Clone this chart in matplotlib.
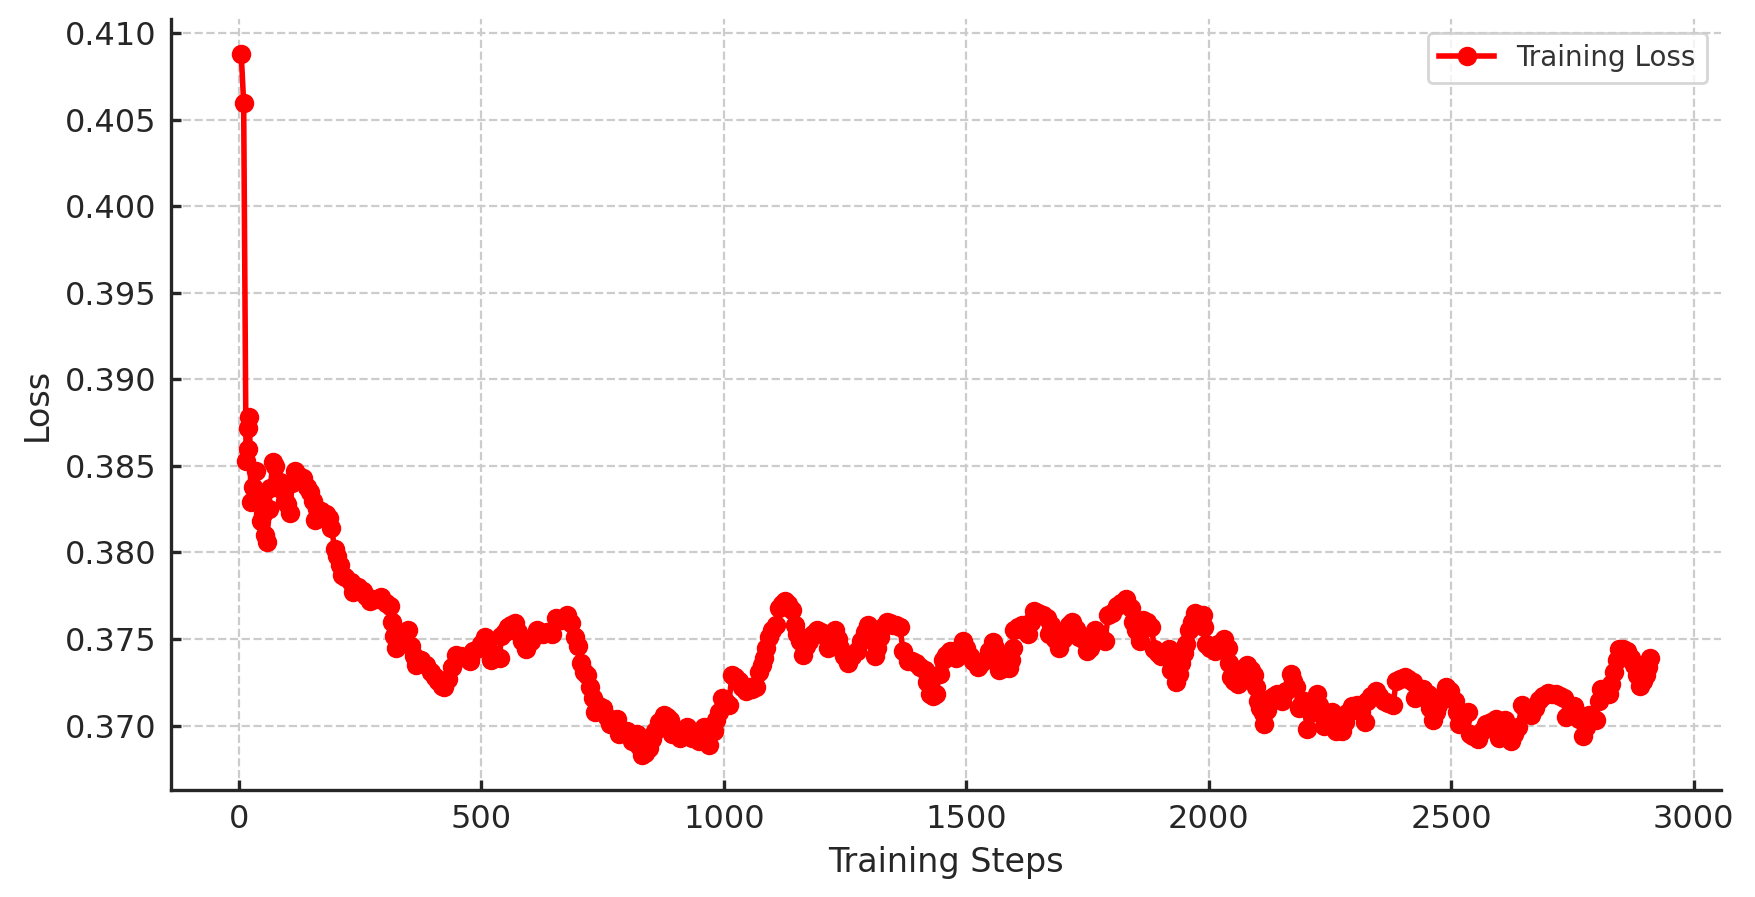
import numpy as np
import matplotlib
matplotlib.use("Agg")
import matplotlib.pyplot as plt

# training loss readings (step, loss) taken off the reference chart
steps = [5, 10, 15, 18, 20, 22, 25, 30, 35, 40, 45, 50, 55, 58, 62, 65, 70, 75, 80, 85,
         90, 95, 100, 105, 110, 115, 125, 133, 140, 146, 152, 157, 162, 170, 180, 186, 191, 198, 203, 208,
         212, 220, 232, 236, 245, 256, 262, 270, 282, 294, 303, 311, 315, 320, 325, 335, 343, 349, 356, 362,
         366, 375, 387, 397, 404, 411, 418, 424, 431, 440, 448, 458, 469, 476, 483, 495,
         500, 507, 514, 521, 530, 538, 541, 548, 555, 562, 569, 576, 583, 593, 603, 614, 621, 628, 636, 645,
         655, 665, 676, 686, 693, 700, 705, 712, 717, 724, 731, 734, 743, 752, 759, 766, 779, 783, 790, 800,
         810, 821, 826, 831, 838, 845, 852, 859, 866, 876, 883, 890, 893, 900, 910, 917, 924, 930, 935, 941,
         948, 955, 959, 964, 969, 979, 985, 990, 997, 1003, 1010, 1017, 1024, 1031, 1038, 1045, 1052, 1059, 1066, 1072,
         1078, 1083, 1088, 1093, 1100, 1107, 1114, 1120, 1127, 1133, 1140, 1147, 1152, 1158, 1164, 1170, 1175, 1184, 1192, 1200,
         1209, 1216, 1222, 1229, 1235, 1240, 1248, 1257, 1265, 1274, 1284, 1291, 1298, 1305, 1312, 1317, 1322, 1329, 1336, 1343,
         1349, 1356, 1363, 1370, 1380, 1388, 1397, 1405, 1414, 1420, 1425, 1432, 1438, 1445, 1452, 1459, 1466, 1473, 1479, 1486,
         1493, 1500, 1507, 1515, 1524, 1531, 1538, 1546, 1555, 1560, 1565, 1568, 1578, 1589, 1592, 1596, 1599, 1607, 1616, 1622,
         1627, 1633, 1640, 1649, 1658, 1666, 1671, 1675, 1683, 1692, 1699, 1705, 1712, 1719, 1726, 1733, 1740, 1750, 1755, 1765,
         1775, 1786, 1793, 1800, 1810, 1820, 1830, 1840, 1844, 1850, 1858, 1864, 1872, 1882, 1888, 1895, 1902, 1910, 1919, 1923,
         1933, 1938, 1943, 1949, 1954, 1960, 1966, 1971, 1980, 1988, 1991, 1995, 2003, 2012, 2020, 2032, 2039, 2042, 2046, 2053,
         2060, 2063, 2072, 2080, 2088, 2094, 2097, 2101, 2106, 2111, 2114, 2120, 2128, 2135, 2141, 2147, 2152, 2159, 2169, 2174,
         2179, 2186, 2191, 2196, 2203, 2210, 2217, 2224, 2228, 2231, 2238, 2246, 2255, 2262, 2268, 2275, 2281, 2286, 2296, 2306,
         2314, 2323, 2327, 2335, 2344, 2352, 2361, 2370, 2380, 2387, 2395, 2404, 2412, 2421, 2425, 2433, 2442, 2452, 2457, 2462,
         2468, 2473, 2482, 2490, 2497, 2507, 2512, 2517, 2525, 2534, 2538, 2546, 2555, 2563, 2572, 2582, 2592, 2599, 2605, 2610,
         2617, 2623, 2630, 2637, 2647, 2655, 2664, 2673, 2682, 2690, 2699, 2708, 2716, 2725, 2733, 2736, 2745, 2753, 2758, 2764,
         2771, 2778, 2784, 2791, 2798, 2805, 2808, 2816, 2825, 2830, 2836, 2841, 2846, 2855, 2863, 2870, 2877, 2884, 2890, 2895,
         2901, 2906, 2911]

losses = [0.4088, 0.4060, 0.3853, 0.3860, 0.3872, 0.3878, 0.3829, 0.3838, 0.3847, 0.3830, 0.3818, 0.3822, 0.3810, 0.3806, 0.3825, 0.3837, 0.3852, 0.3850, 0.3840, 0.3841,
          0.3836, 0.3830, 0.3828, 0.3823, 0.3840, 0.3847, 0.3844, 0.3843, 0.3838, 0.3835, 0.3830, 0.3819, 0.3825, 0.3824, 0.3822, 0.3820, 0.3814, 0.3802, 0.3798, 0.3793,
          0.3787, 0.3786, 0.3783, 0.3777, 0.3780, 0.3778, 0.3775, 0.3772, 0.3773, 0.3774, 0.3771, 0.3769, 0.3760, 0.3752, 0.3745, 0.3750, 0.3753, 0.3755, 0.3746, 0.3740,
          0.3735, 0.3738, 0.3735, 0.3731, 0.3728, 0.3726, 0.3723, 0.3722, 0.3727, 0.3734, 0.3741, 0.3740, 0.3739, 0.3737, 0.3743, 0.3745,
          0.3747, 0.3751, 0.3745, 0.3738, 0.3740, 0.3739, 0.3752, 0.3754, 0.3757, 0.3758, 0.3759, 0.3754, 0.3749, 0.3744, 0.3749, 0.3755, 0.3754, 0.3753, 0.3754, 0.3753,
          0.3762, 0.3761, 0.3764, 0.3759, 0.3751, 0.3746, 0.3736, 0.3731, 0.3729, 0.3722, 0.3716, 0.3708, 0.3711, 0.3710, 0.3705, 0.3701, 0.3704, 0.3695, 0.3697, 0.3697,
          0.3691, 0.3695, 0.3688, 0.3683, 0.3684, 0.3687, 0.3692, 0.3697, 0.3702, 0.3706, 0.3705, 0.3703, 0.3695, 0.3696, 0.3693, 0.3696, 0.3699, 0.3696, 0.3693, 0.3694,
          0.3691, 0.3695, 0.3699, 0.3694, 0.3689, 0.3697, 0.3703, 0.3708, 0.3716, 0.3714, 0.3712, 0.3729, 0.3728, 0.3726, 0.3722, 0.3720, 0.3722, 0.3721, 0.3722, 0.3731,
          0.3735, 0.3739, 0.3745, 0.3751, 0.3755, 0.3758, 0.3768, 0.3770, 0.3772, 0.3770, 0.3767, 0.3758, 0.3753, 0.3749, 0.3741, 0.3746, 0.3749, 0.3753, 0.3755, 0.3754,
          0.3752, 0.3745, 0.3750, 0.3755, 0.3750, 0.3745, 0.3740, 0.3736, 0.3740, 0.3743, 0.3749, 0.3754, 0.3758, 0.3750, 0.3740, 0.3745, 0.3751, 0.3757, 0.3760, 0.3759,
          0.3758, 0.3758, 0.3757, 0.3743, 0.3737, 0.3737, 0.3736, 0.3734, 0.3732, 0.3725, 0.3718, 0.3717, 0.3718, 0.3730, 0.3738, 0.3741, 0.3743, 0.3742, 0.3739, 0.3744,
          0.3749, 0.3745, 0.3740, 0.3737, 0.3734, 0.3736, 0.3738, 0.3743, 0.3748, 0.3745, 0.3741, 0.3732, 0.3733, 0.3733, 0.3738, 0.3745, 0.3755, 0.3757, 0.3758, 0.3755,
          0.3753, 0.3760, 0.3766, 0.3765, 0.3764, 0.3762, 0.3753, 0.3758, 0.3750, 0.3745, 0.3750, 0.3755, 0.3758, 0.3760, 0.3756, 0.3751, 0.3750, 0.3743, 0.3745, 0.3755,
          0.3752, 0.3749, 0.3764, 0.3765, 0.3769, 0.3771, 0.3773, 0.3768, 0.3760, 0.3755, 0.3749, 0.3761, 0.3760, 0.3757, 0.3744, 0.3742, 0.3740, 0.3742, 0.3744, 0.3732,
          0.3725, 0.3730, 0.3736, 0.3742, 0.3747, 0.3755, 0.3760, 0.3765, 0.3764, 0.3764, 0.3757, 0.3747, 0.3745, 0.3743, 0.3747, 0.3750, 0.3745, 0.3736, 0.3728, 0.3726,
          0.3724, 0.3730, 0.3733, 0.3735, 0.3732, 0.3729, 0.3722, 0.3714, 0.3710, 0.3707, 0.3701, 0.3709, 0.3716, 0.3717, 0.3718, 0.3716, 0.3714, 0.3720, 0.3730, 0.3726,
          0.3722, 0.3710, 0.3712, 0.3714, 0.3698, 0.3707, 0.3712, 0.3718, 0.3712, 0.3707, 0.3700, 0.3704, 0.3708, 0.3697, 0.3698, 0.3697, 0.3702, 0.3707, 0.3711, 0.3712,
          0.3708, 0.3702, 0.3714, 0.3717, 0.3720, 0.3717, 0.3714, 0.3713, 0.3712, 0.3726, 0.3727, 0.3728, 0.3727, 0.3725, 0.3716, 0.3720, 0.3721, 0.3718, 0.3710, 0.3703,
          0.3708, 0.3712, 0.3717, 0.3722, 0.3720, 0.3714, 0.3708, 0.3701, 0.3705, 0.3708, 0.3695, 0.3694, 0.3692, 0.3697, 0.3701, 0.3702, 0.3704, 0.3693, 0.3698, 0.3703,
          0.3697, 0.3691, 0.3695, 0.3699, 0.3712, 0.3709, 0.3706, 0.3710, 0.3715, 0.3717, 0.3719, 0.3718, 0.3718, 0.3717, 0.3716, 0.3705, 0.3708, 0.3711, 0.3708, 0.3704,
          0.3694, 0.3699, 0.3706, 0.3705, 0.3703, 0.3714, 0.3721, 0.3720, 0.3718, 0.3724, 0.3731, 0.3738, 0.3744, 0.3744, 0.3743, 0.3739, 0.3735, 0.3729, 0.3723, 0.3726,
          0.3729, 0.3734, 0.3739]

text_col = "#262626"

fig = plt.figure(figsize=(8.775, 4.485), dpi=200)
ax = fig.add_axes([0.0973, 0.1193, 0.8833, 0.8595])

ax.plot(steps, losses, marker="o", linestyle="-", color="red",
        linewidth=2, markersize=6, label="Training Loss")

ax.set_xlabel("Training Steps", fontsize=12, color=text_col)
ax.set_ylabel("Loss", fontsize=12, color=text_col)
ax.set_xticks([0, 500, 1000, 1500, 2000, 2500, 3000])

ax.grid(True, linestyle="--", color="#cccccc", linewidth=0.8)
ax.set_axisbelow(True)
for side in ["top", "right"]:
    ax.spines[side].set_visible(False)
for side in ["left", "bottom"]:
    ax.spines[side].set_color(text_col)
    ax.spines[side].set_linewidth(1.2)
ax.tick_params(direction="in", labelsize=11.5, colors=text_col, pad=5, width=1.2)

leg = ax.legend(loc="upper right", fontsize=10)
for t in leg.get_texts():
    t.set_color("#333333")

fig.savefig("out.png", dpi=200)
